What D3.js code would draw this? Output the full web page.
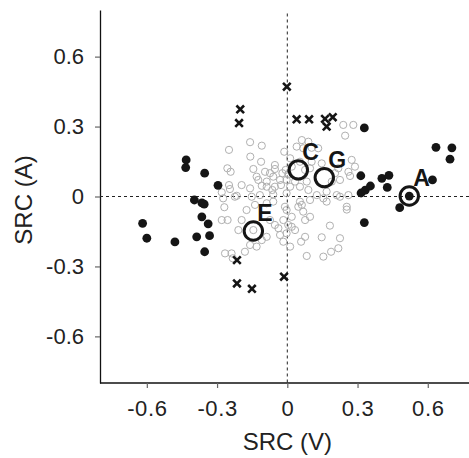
<!DOCTYPE html>
<html>
<head>
<meta charset="utf-8">
<script src="https://cdn.jsdelivr.net/npm/d3@7"></script>
<style>
  body { margin: 0; background: #fff; }
  text { font-family: "Liberation Sans", Arial, sans-serif; }
</style>
</head>
<body>
<div id="chart"></div>
<script>
// Data (SRC values)
const ticks = [-0.6, -0.3, 0, 0.3, 0.6];

// grey open circles
const greyX = [-0.159,-0.109,-0.249,-0.158,-0.112,-0.013,-0.256,-0.242,-0.145,-0.095,-0.053,-0.053,-0.021,-0.007,
  -0.131,-0.124,-0.088,-0.060,-0.031,-0.249,-0.245,-0.195,-0.159,-0.109,-0.088,-0.064,-0.053,-0.027,-0.280,-0.216,
  -0.117,-0.060,-0.003,-0.074,0.239,0.282,0.247,0.062,0.090,0.040,0.068,0.104,0.132,0.012,0.019,0.054,0.076,0.097,
  0.104,0.147,0.204,0.218,0.225,0.275,0.289,0.261,0.190,0.083,0.054,0.012,0.033,0.090,0.126,0.168,0.211,0.261,
  0.004,-0.003,0.268,-0.274,-0.269,-0.280,-0.255,-0.174,-0.195,-0.209,-0.145,-0.159,-0.181,-0.266,-0.238,-0.233,
  -0.088,-0.053,-0.038,-0.017,-0.031,-0.017,-0.074,-0.060,-0.088,-0.138,-0.224,-0.152,-0.109,-0.131,-0.010,0.054,
  0.097,0.154,0.168,0.225,0.047,0.062,0.254,0.254,-0.003,0.019,0.068,0.097,0.076,0.004,0.019,0.033,-0.003,0.182,
  0.076,0.059,0.147,0.225,0.012,0.083,0.154,0.187,0.218];
const greyY = [0.233,0.218,0.200,0.171,0.149,0.192,0.121,0.106,0.118,0.106,0.135,0.118,0.100,0.114,
  0.085,0.071,0.064,0.085,0.071,0.049,0.032,0.049,0.035,0.046,0.042,0.028,0.042,0.049,0.018,0.003,
  0.006,0.009,0.014,0.100,0.307,0.307,0.261,0.242,0.235,0.214,0.207,0.209,0.207,0.164,0.128,0.149,0.114,0.121,
  0.149,0.142,0.100,0.121,0.071,0.157,0.128,0.106,0.064,0.064,0.042,0.042,0.064,0.028,0.006,0.021,0.006,0.006,
  0.095,0.071,0.088,-0.008,-0.046,-0.101,-0.101,-0.058,-0.101,-0.144,-0.144,-0.208,-0.237,-0.244,-0.244,-0.265,
  -0.173,-0.122,-0.136,-0.101,-0.165,-0.194,-0.101,-0.022,-0.029,-0.036,-0.001,-0.001,-0.187,-0.215,-0.044,-0.022,
  -0.015,-0.008,-0.022,-0.001,-0.044,-0.036,-0.044,-0.056,-0.058,-0.087,-0.065,-0.087,-0.101,-0.122,-0.130,-0.144,-0.158,-0.125,
  -0.173,-0.194,-0.175,-0.179,-0.215,-0.255,-0.258,-0.237,-0.222];

// black filled circles
const blackX = [-0.432,-0.434,-0.353,-0.296,-0.397,-0.365,-0.355,-0.618,-0.600,-0.480,-0.387,-0.365,-0.338,-0.332,-0.353,
  0.329,0.635,0.703,0.695,0.314,0.404,0.434,0.427,0.315,0.333,0.355,0.620,0.521,0.480,0.329];
const blackY = [0.157,0.124,0.100,0.048,-0.015,-0.027,-0.033,-0.115,-0.179,-0.195,-0.173,-0.087,-0.117,-0.168,-0.237,
  0.294,0.211,0.209,0.160,0.089,0.078,0.091,0.039,0.015,0.027,0.045,0.071,0.002,-0.048,-0.112];

// crosses
const crossX = [-0.201,-0.206,-0.002,0.040,0.093,0.161,0.168,0.194,-0.215,-0.215,-0.151,-0.014];
const crossY = [0.374,0.315,0.471,0.331,0.331,0.333,0.300,0.340,-0.273,-0.373,-0.396,-0.344];

// labelled sites
const siteNames = ["A", "C", "G", "E"];
const siteX = [0.521, 0.047, 0.158, -0.145];
const siteY = [0.002, 0.114, 0.081, -0.148];

const width = 469, height = 458;

const svg = d3.select("#chart").append("svg")
    .attr("width", width)
    .attr("height", height);

const x = d3.scaleLinear().domain([-0.8, 0.8]).range([100, 474.6]);
const y = d3.scaleLinear().domain([-0.8, 0.8]).range([383, 10]);

const fmt = d => d === 0 ? "0" : String(d);

// axes
const xAxis = svg.append("g")
    .attr("transform", `translate(0,${y(-0.8)})`)
    .call(d3.axisBottom(x).tickValues(ticks).tickFormat(fmt).tickSize(5).tickPadding(12).tickSizeOuter(0));
xAxis.select(".domain").attr("d", `M${x(-0.8)},0H${width}`);

const yAxis = svg.append("g")
    .attr("transform", `translate(${x(-0.8)},0)`)
    .call(d3.axisLeft(y).tickValues(ticks).tickFormat(fmt).tickSize(5).tickPadding(11).tickSizeOuter(0));

svg.selectAll(".domain").attr("stroke", "#111").attr("stroke-width", 1.3);
svg.selectAll(".tick line").attr("stroke", "#666").attr("stroke-width", 1.2);
svg.selectAll(".tick text")
    .attr("font-size", 22)
    .attr("fill", "#222")
    .style("font-family", "'Liberation Sans', Arial, sans-serif");
xAxis.selectAll(".tick text").attr("letter-spacing", 0.6);

// axis titles
svg.append("text")
    .attr("x", x(0))
    .attr("y", 450)
    .attr("text-anchor", "middle")
    .attr("font-size", 24)
    .attr("fill", "#222")
    .text("SRC (V)");

svg.append("text")
    .attr("transform", `translate(32,${y(-0.015)}) rotate(-90)`)
    .attr("text-anchor", "middle")
    .attr("font-size", 24)
    .attr("fill", "#222")
    .text("SRC (A)");

// zero reference lines
svg.append("line")
    .attr("x1", x(0)).attr("x2", x(0))
    .attr("y1", y(0.785)).attr("y2", y(-0.8))
    .attr("stroke", "#222").attr("stroke-width", 1)
    .attr("stroke-dasharray", "3,3");

svg.append("line")
    .attr("x1", x(-0.8)).attr("x2", width)
    .attr("y1", y(0)).attr("y2", y(0))
    .attr("stroke", "#222").attr("stroke-width", 1)
    .attr("stroke-dasharray", "3,3");

// grey open circles
svg.append("g").selectAll("circle")
    .data(d3.range(greyX.length))
    .enter().append("circle")
    .attr("cx", i => x(greyX[i]))
    .attr("cy", i => y(greyY[i]))
    .attr("r", 3.6)
    .attr("fill", "none")
    .attr("stroke", "#b0b0b0")
    .attr("stroke-width", 1);

// black dots
svg.append("g").selectAll("circle")
    .data(d3.range(blackX.length))
    .enter().append("circle")
    .attr("cx", i => x(blackX[i]))
    .attr("cy", i => y(blackY[i]))
    .attr("r", 4.4)
    .attr("fill", "#151515");

// crosses
svg.append("g").selectAll("path")
    .data(d3.range(crossX.length))
    .enter().append("path")
    .attr("d", i => {
        const cx = x(crossX[i]), cy = y(crossY[i]), s = 3.8;
        return `M${cx - s},${cy - s}L${cx + s},${cy + s}M${cx - s},${cy + s}L${cx + s},${cy - s}`;
    })
    .attr("stroke", "#151515")
    .attr("stroke-width", 2.6)
    .attr("fill", "none");

// labelled sites
svg.append("g").selectAll("circle")
    .data(d3.range(siteNames.length))
    .enter().append("circle")
    .attr("cx", i => x(siteX[i]))
    .attr("cy", i => y(siteY[i]))
    .attr("r", 9.2)
    .attr("fill", "none")
    .attr("stroke", "#151515")
    .attr("stroke-width", 3);

svg.append("g").selectAll("text")
    .data(d3.range(siteNames.length))
    .enter().append("text")
    .attr("x", i => x(siteX[i]) + 4)
    .attr("y", i => y(siteY[i]) - 10)
    .attr("font-size", 23)
    .attr("font-weight", "bold")
    .attr("fill", "#151515")
    .text(i => siteNames[i]);
</script>
</body>
</html>
